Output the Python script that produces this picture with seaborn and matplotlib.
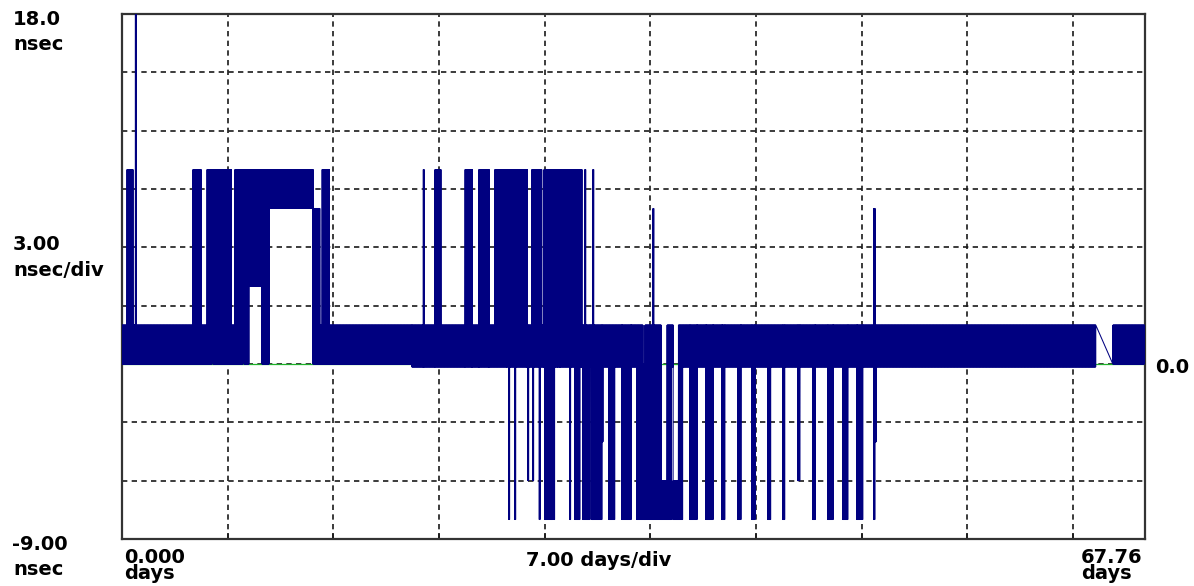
import numpy as np
import pandas as pd
import matplotlib
matplotlib.use("Agg")
import matplotlib.pyplot as plt
import seaborn as sns

sns.set_style("white")
plt.rcParams["font.family"] = ["DejaVu Sans"]

# ---- scale ---------------------------------------------------------------
T_END = 67.76          # days
Y_MIN, Y_MAX = -9.0, 18.0
X_DIV, Y_DIV = 7.0, 3.0

# ---- quiet-state band: the reading flips between two levels -------------
band_start = [0.00, 19.20, 65.63]
band_end = [19.20, 64.50, 67.72]
band_low = [0.0, -0.15, 0.0]
band_high = [2.0, 2.0, 2.0]

# ---- excursions: (start day, end day, low level, high level) ------------
feat_start = [0.33, 0.88, 4.70, 5.63, 5.96, 6.02, 7.48, 8.01, 8.08, 8.41,
              9.27, 9.74, 12.65, 13.25,
              19.95, 20.73, 22.72, 23.64, 24.70, 25.40, 25.47, 25.63, 25.68, 26.03,
              26.08, 26.89, 27.15, 27.22, 27.27, 27.64, 27.69, 27.95, 28.01, 28.48,
              28.53, 28.61, 28.66, 28.80, 28.85, 29.00, 29.05, 29.67, 29.72, 30.00,
              30.33, 30.53, 30.66, 30.71, 31.13, 31.19, 31.24, 31.79, 32.25, 33.11,
              34.11, 34.50, 34.64, 35.17, 35.22, 35.70, 36.10, 36.50, 36.85, 37.62,
              38.68, 39.74, 40.79, 41.72, 42.78, 43.77, 44.77, 45.76, 46.75, 47.75,
              48.68, 49.80, 49.87]
feat_end = [0.73, 0.93, 5.23, 5.96, 6.02, 7.22, 8.01, 8.08, 8.41, 9.27,
            9.74, 12.65, 13.11, 13.71,
            20.00, 21.13, 23.18, 24.30, 25.40, 25.47, 25.63, 25.68, 26.03, 26.08,
            26.82, 26.95, 27.22, 27.27, 27.64, 27.69, 27.81, 28.01, 28.48, 28.53,
            28.61, 28.66, 28.80, 28.85, 29.00, 29.05, 29.67, 29.72, 30.00, 30.33,
            30.46, 30.66, 30.71, 31.00, 31.19, 31.24, 31.79, 31.85, 32.65, 33.71,
            34.50, 34.64, 35.17, 35.22, 35.70, 36.10, 36.40, 36.85, 37.15, 38.08,
            39.14, 39.93, 40.99, 41.92, 42.98, 43.90, 44.90, 45.90, 47.09, 48.08,
            49.07, 49.87, 49.95]
feat_low = [0, 0, 0, 0, 4, 0, 0, 8, 0, 4,
            0, 8, 0, 0,
            -0.15, -0.15, -0.15, -0.15, -0.15, -0.15, -0.15, -8, -0.15, -8,
            -0.15, -6, -0.15, -6, -0.15, -8, -0.15, -0.15, -8, -8,
            -0.15, -8, -0.15, -0.15, -0.15, -0.15, -0.15, -8, -0.15, -8,
            -0.15, -8, -8, -8, -8, -8, -8, -4, -8, -8,
            -8, -8, -8, -8, -8, -8, -8, -8, -8, -8,
            -8, -8, -8, -8, -8, -8, -6, -8, -8, -8,
            -8, -8, -4]
feat_high = [10, 18, 10, 10, 10, 10, 10, 10, 10, 10,
             10, 10, 8, 10,
             10, 10, 10, 10, 10, 8, 10, 10, 10, 10,
             10, 2, 10, 10, 10, 10, 10, 10, 10, 8,
             10, 10, 10, 8, 10, 8, 10, 10, 10, 10,
             10, 2, 10, 2, 2, 10, 2, 2, 2, 2,
             2, 0, 2, 8, 2, -6, 2, -6, 2, 2,
             2, 2, 2, 2, 2, 2, 2, 2, 2, 2,
             2, 8, 2]

# reference channel, flat at zero
ref_days = [0.0, 67.76]
ref_vals = [0.0, 0.0]

SAMPLE = 0.02  # days between readings


def build_spans():
    spans = []

    def fill_band(t0, t1):
        for s, e, lo, hi in zip(band_start, band_end, band_low, band_high):
            a, b = max(s, t0), min(e, t1)
            if b - a > 1e-9:
                spans.append((a, b, lo, hi))

    t = 0.0
    for s, e, lo, hi in sorted(zip(feat_start, feat_end, feat_low, feat_high)):
        fill_band(t, s)
        spans.append((s, e, lo, hi))
        t = e
    fill_band(t, T_END)
    return spans


days, vals = [], []
for s, e, lo, hi in build_spans():
    for t in np.arange(s, e, SAMPLE):
        days += [t, t + SAMPLE / 2]
        vals += [lo, hi]

trace = pd.DataFrame({"day": days, "nsec": vals})
ref = pd.DataFrame({"day": ref_days, "nsec": ref_vals})

# ---- figure ----------------------------------------------------------------
W, H = 1194, 586
fig = plt.figure(figsize=(W / 100, H / 100), dpi=100)
ax = fig.add_axes([122 / W, 1 - 539 / H, (1145 - 122) / W, (539 - 14) / H])

sns.lineplot(data=ref, x="day", y="nsec", ax=ax, color="#1fb02a",
             linewidth=0.9, estimator=None, sort=False, zorder=2)
sns.lineplot(data=trace, x="day", y="nsec", ax=ax, color="#000080",
             linewidth=0.75, estimator=None, sort=False, zorder=3)

ax.set_xlim(0, T_END)
ax.set_ylim(Y_MIN, Y_MAX)
ax.set_xticks(np.arange(X_DIV, T_END, X_DIV))
ax.set_yticks(np.arange(Y_MIN + Y_DIV, Y_MAX, Y_DIV))
ax.set_xticklabels([])
ax.set_yticklabels([])
ax.set_xlabel("")
ax.set_ylabel("")
ax.set_axisbelow(True)
ax.grid(True, color="#1a1a1a", linewidth=1.2, linestyle=(0, (3.2, 2.6)))
ax.tick_params(axis="x", direction="in", length=4, width=1.2, color="#1a1a1a",
               bottom=True, top=False)
ax.tick_params(axis="y", left=False, right=False)
for sp in ax.spines.values():
    sp.set_visible(True)
    sp.set_color("#333333")
    sp.set_linewidth(1.6)


def label(x, y, s, ha="left", ls=1.2):
    # y is the baseline of the last line, in pixels from the top
    fig.text(x / W, 1 - y / H, s, ha=ha, va="baseline", fontsize=14,
             fontweight="bold", color="black", linespacing=ls,
             multialignment="left")


label(13, 25, "18.0")
label(13, 50, "nsec")
label(13, 250, "3.00")
label(13, 276, "nsec/div")
label(12, 550, "-9.00")
label(13, 575, "nsec")
label(124, 579, "0.000\ndays", ls=0.83)
label(599, 566, "7.00 days/div", ha="center")
label(1081, 579, "67.76\ndays", ls=0.83)
label(1155, 373, "0.0")

fig.savefig("out.png", dpi=100)
